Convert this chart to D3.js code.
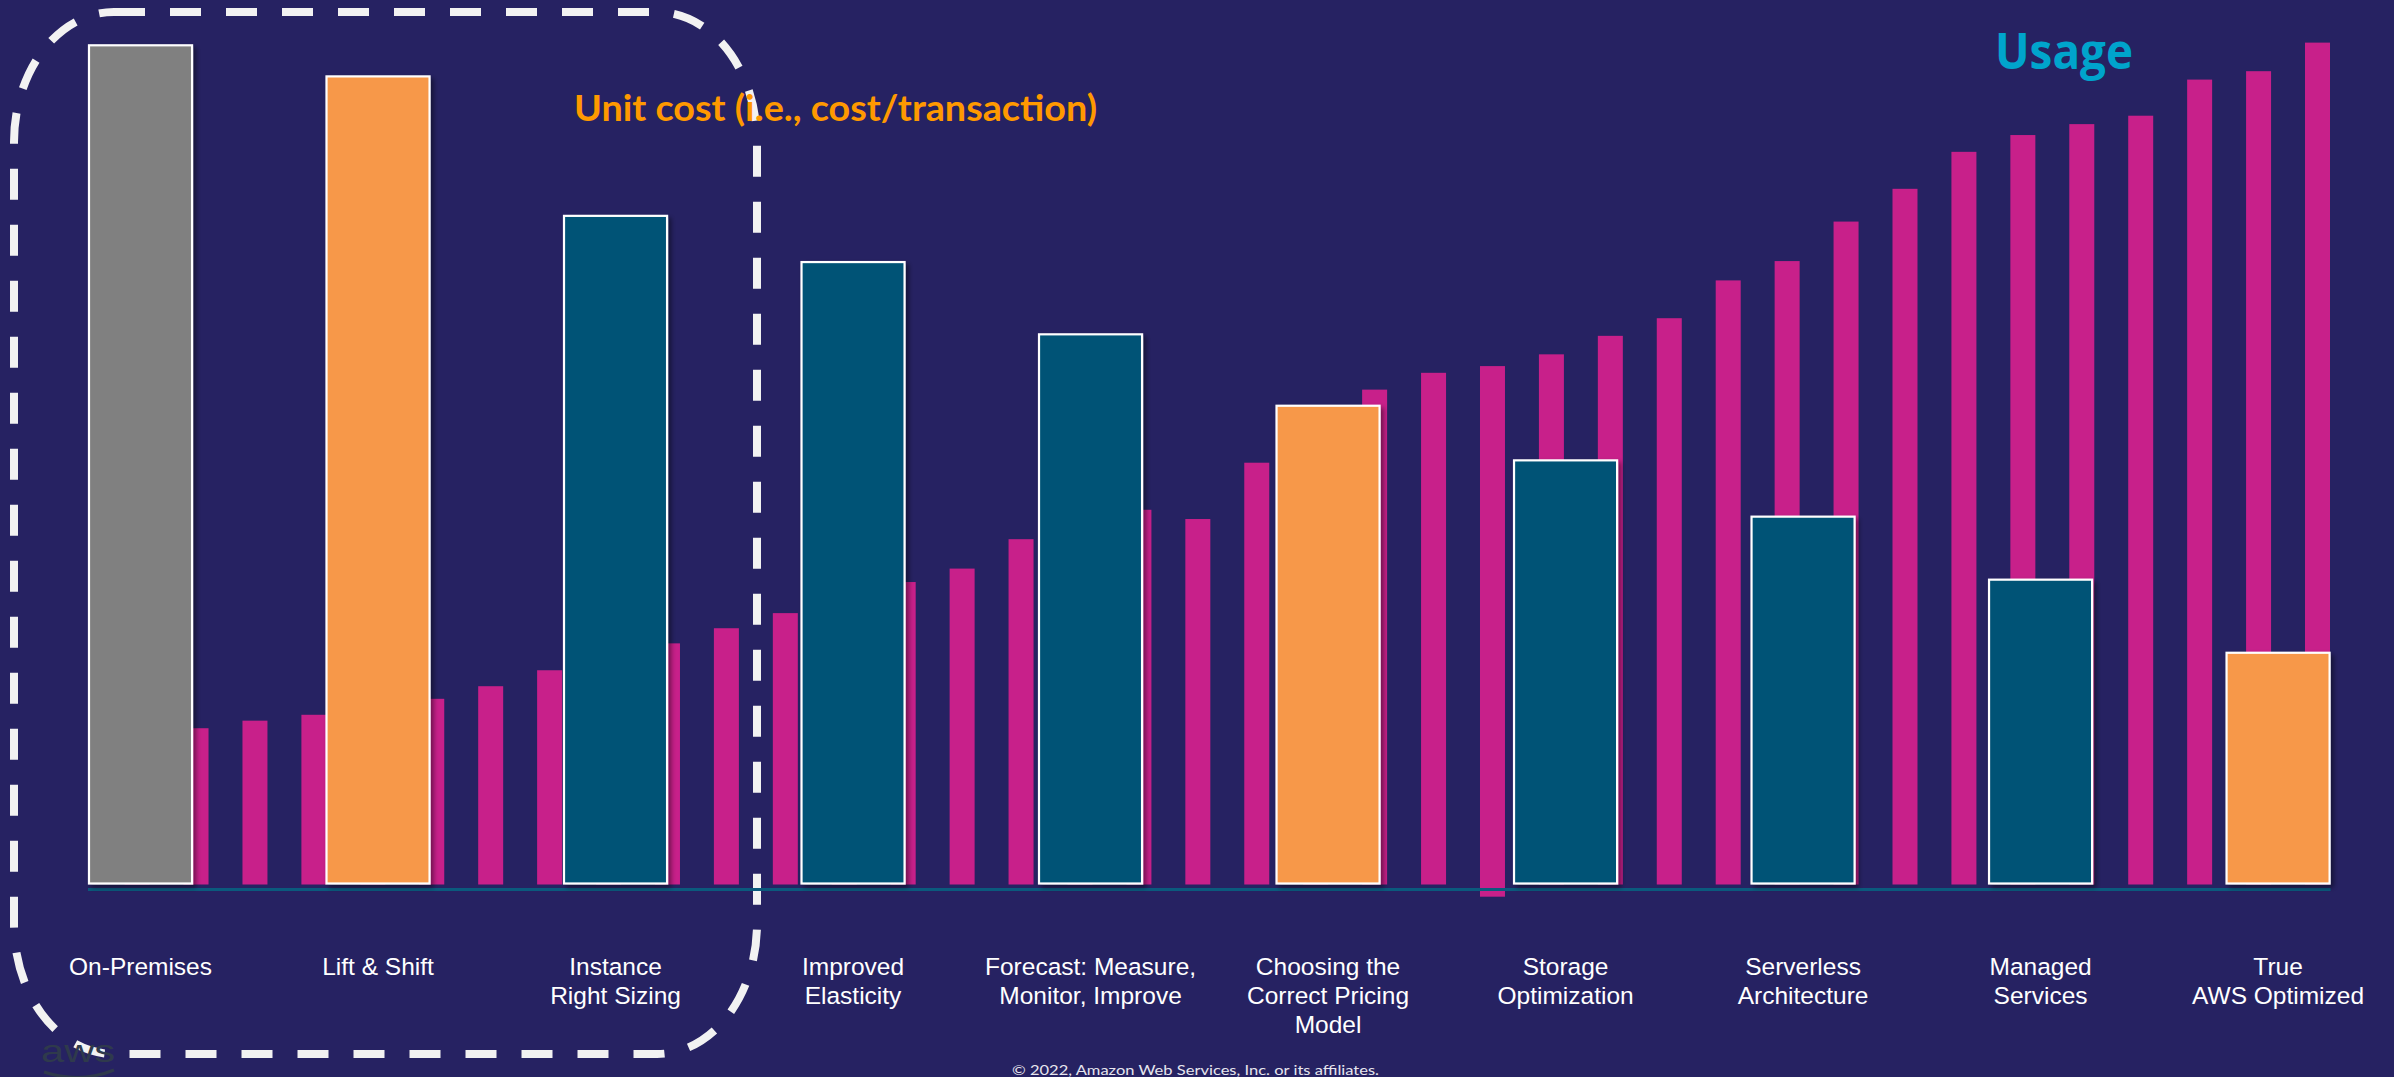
<!DOCTYPE html>
<html>
<head>
<meta charset="utf-8">
<script src="https://cdn.jsdelivr.net/npm/d3@7"></script>
<style>
  html, body { margin: 0; padding: 0; background: #262262; }
  svg { display: block; }
</style>
</head>
<body>
<script>
// ---------------- DATA ----------------
const categories = [
  "On-Premises",
  "Lift & Shift",
  "Instance\nRight Sizing",
  "Improved\nElasticity",
  "Forecast: Measure,\nMonitor, Improve",
  "Choosing the\nCorrect Pricing\nModel",
  "Storage\nOptimization",
  "Serverless\nArchitecture",
  "Managed\nServices",
  "True\nAWS Optimized"
];
// unit cost (relative, on-premises = 100)
const unitCost = [100, 96.3, 79.7, 74.2, 65.6, 57.1, 50.6, 43.9, 36.4, 27.7];
// bar kind per stage
const costKind = ["onprem", "shift", "opt", "opt", "opt", "shift", "opt", "opt", "opt", "shift"];
// usage (relative), one thin bar per period
const usage = [17.8, 18.6, 19.5, 20.2, 21.1, 22.1, 23.6, 25.5, 27.2, 28.7,
               30.5, 32.3, 34.1, 36.0, 37.6, 41.1, 42.8, 44.6, 43.5, 50.2,
               54.7, 58.9, 60.9, 61.7, 63.1, 65.3, 67.4, 71.9, 74.2, 78.9,
               82.8, 87.2, 89.2, 90.5, 91.5, 95.8, 96.8, 100.2];
// lower end of each usage bar (one bar dips below the axis)
const usageBase = [0, 0, 0, 0, 0, 0, 0, 0, 0, 0,
                   0, 0, 0, 0, 0, 0, 0, 0, 0, 0,
                   0, 0, 0, -1.45, 0, 0, 0, 0, 0, 0,
                   0, 0, 0, 0, 0, 0, 0, 0];
const titleCost = "Unit cost (i.e., cost/transaction)";
const titleUsage = "Usage";
const copyright = "\u00A9 2022, Amazon Web Services, Inc. or its affiliates.";

// ---------------- STYLE / LAYOUT ----------------
const W = 2394, H = 1077;
const colors = {
  bg: "#262262",
  usage: "#C8208A",
  onprem: "#808080",
  shift: "#F7984A",
  opt: "#005276",
  axis: "#0B5A7D",
  costTitle: "#FF9900",
  usageTitle: "#00A4CC",
  label: "#FFFFFF",
  dash: "#F2F2F2"
};

const svg = d3.select("body").append("svg")
  .attr("width", W).attr("height", H)
  .attr("viewBox", `0 0 ${W} ${H}`);

svg.append("rect").attr("width", W).attr("height", H).attr("fill", colors.bg);

const defs = svg.append("defs");
const f = defs.append("filter").attr("id", "shadow")
  .attr("x", "-10%").attr("y", "-10%").attr("width", "130%").attr("height", "130%");
f.append("feDropShadow").attr("dx", 3).attr("dy", 3).attr("stdDeviation", 2.5)
  .attr("flood-color", "#000").attr("flood-opacity", 0.45);

// scales
const y = d3.scaleLinear().domain([0, 100]).range([884.5, 44.3]);

const xUsage = d3.scaleBand()
  .domain(d3.range(usage.length))
  .range([124.6, 2330])
  .paddingInner(1 - 25 / 58.93)
  .paddingOuter(0);

const xCost = d3.scaleBand()
  .domain(categories)
  .range([88, 2330.6])
  .paddingInner(1 - 105 / 237.4)
  .paddingOuter(0);

// dashed rounded frame (drawn behind the titles)
svg.append("rect")
  .attr("x", 14).attr("y", 12)
  .attr("width", 757 - 14).attr("height", 1054 - 12)
  .attr("rx", 100).attr("ry", 130)
  .attr("fill", "none")
  .attr("stroke", colors.dash)
  .attr("stroke-width", 8)
  .attr("stroke-dasharray", "31 25");

// usage bars
svg.append("g").selectAll("rect")
  .data(usage)
  .join("rect")
  .attr("x", (d, i) => xUsage(i))
  .attr("width", xUsage.bandwidth())
  .attr("y", d => y(d))
  .attr("height", (d, i) => y(usageBase[i]) - y(d))
  .attr("fill", colors.usage);

// axis baseline
svg.append("line")
  .attr("x1", xCost(categories[0]))
  .attr("x2", xCost(categories[categories.length - 1]) + xCost.bandwidth())
  .attr("y1", y(0) + 5).attr("y2", y(0) + 5)
  .attr("stroke", colors.axis)
  .attr("stroke-width", 3);

// unit cost bars
svg.append("g").selectAll("rect")
  .data(unitCost)
  .join("rect")
  .attr("x", (d, i) => xCost(categories[i]) + 1)
  .attr("width", xCost.bandwidth() - 2)
  .attr("y", d => y(d) + 1)
  .attr("height", d => y(0) - y(d) - 2)
  .attr("fill", (d, i) => colors[costKind[i]])
  .attr("stroke", "#FFFFFF")
  .attr("stroke-width", 2.2)
  .attr("filter", "url(#shadow)");

// category labels via axis
const axis = d3.axisBottom(xCost).tickSize(0).tickPadding(0);
const gAxis = svg.append("g")
  .attr("transform", `translate(0,${y(0)})`)
  .call(axis);
gAxis.select(".domain").remove();
gAxis.selectAll(".tick text")
  .attr("fill", colors.label)
  .attr("font-family", "'Liberation Sans', Arial, sans-serif")
  .attr("font-size", 24.5)
  .attr("dy", null)
  .attr("y", 90)
  .each(function(d) {
    const t = d3.select(this);
    const lines = d.split("\n");
    t.text(null);
    lines.forEach((ln, j) => {
      t.append("tspan").attr("x", 0).attr("dy", j === 0 ? 0 : 29).text(ln);
    });
  });

// titles
svg.append("text")
  .attr("x", 574).attr("y", 121)
  .attr("font-family", "Lato, 'Open Sans', sans-serif")
  .attr("font-weight", 700)
  .attr("font-size", 36)
  .attr("textLength", 523)
  .attr("lengthAdjust", "spacingAndGlyphs")
  .attr("fill", colors.costTitle)
  .text(titleCost);

svg.append("text")
  .attr("x", 1995).attr("y", 69)
  .attr("font-family", "'Open Sans', Lato, sans-serif")
  .attr("font-weight", 700)
  .attr("font-size", 50)
  .attr("textLength", 138)
  .attr("lengthAdjust", "spacingAndGlyphs")
  .attr("fill", colors.usageTitle)
  .text(titleUsage);

// copyright
svg.append("text")
  .attr("x", 1012).attr("y", 1075)
  .attr("font-family", "Lato, 'Open Sans', sans-serif")
  .attr("font-size", 14)
  .attr("textLength", 367)
  .attr("lengthAdjust", "spacingAndGlyphs")
  .attr("fill", "#E6E6EE")
  .text(copyright);

// faint aws mark
svg.append("text")
  .attr("x", 41).attr("y", 1062)
  .attr("font-family", "'Liberation Sans Narrow', 'Liberation Sans', sans-serif")
  .attr("font-size", 32)
  .attr("textLength", 74)
  .attr("lengthAdjust", "spacingAndGlyphs")
  .attr("fill", "#2F3A4C")
  .text("aws");
svg.append("path")
  .attr("d", "M44,1072 Q80,1084 114,1070")
  .attr("fill", "none")
  .attr("stroke", "#2F3A4C")
  .attr("stroke-width", 3);
</script>
</body>
</html>
